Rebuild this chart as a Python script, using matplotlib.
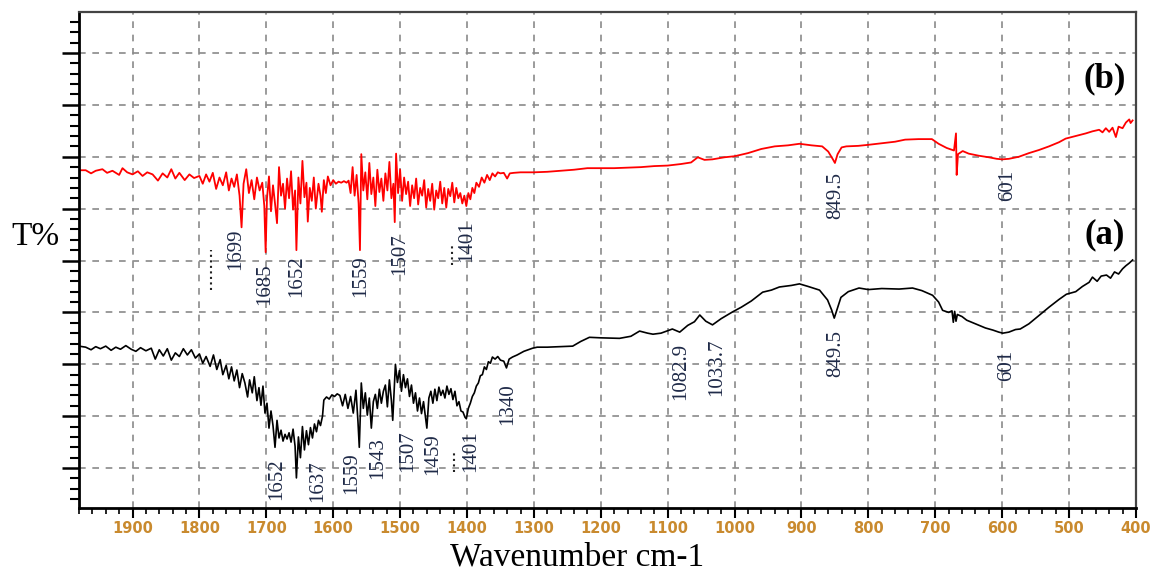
# FTIR transmittance spectra (a) and (b), T% vs wavenumber

import numpy as np
import matplotlib
matplotlib.use('Agg')
import matplotlib.pyplot as plt
from matplotlib.ticker import MultipleLocator, NullFormatter

# spectrum (b), red
wnB = [1980, 1970, 1962, 1955, 1945, 1938, 1930, 1920, 1915, 1908, 1900, 1892, 1885, 1878, 1870,
       1862, 1855, 1848, 1842, 1836, 1830, 1822, 1815, 1808, 1800, 1795, 1790, 1785, 1780, 1775,
       1770, 1765, 1760, 1756, 1752, 1748, 1744, 1740, 1737, 1734, 1730, 1726, 1722, 1718, 1714,
       1710, 1706, 1703, 1701, 1699, 1696, 1693, 1690, 1687, 1684, 1681, 1678, 1675, 1672, 1669,
       1666, 1663, 1660, 1657, 1655, 1652, 1649, 1646, 1643, 1640, 1638, 1635, 1632, 1629, 1626,
       1622, 1619, 1617, 1614, 1611, 1608, 1604, 1600, 1596, 1592, 1588, 1584, 1580, 1577, 1574,
       1571, 1568, 1565, 1562, 1560, 1558, 1555, 1552, 1549, 1546, 1543, 1540, 1537, 1534, 1531,
       1528, 1525, 1522, 1519, 1516, 1513, 1510, 1508, 1506, 1503, 1500, 1497, 1494, 1491, 1488,
       1485, 1482, 1479, 1476, 1473, 1470, 1467, 1464, 1461, 1458, 1455, 1452, 1449, 1446, 1443,
       1440, 1437, 1434, 1431, 1428, 1425, 1422, 1419, 1416, 1413, 1410, 1407, 1404, 1401, 1398,
       1395, 1392, 1389, 1386, 1382, 1378, 1374, 1370, 1366, 1362, 1358, 1354, 1350, 1345, 1340,
       1336, 1330, 1320, 1300, 1280, 1260, 1240, 1220, 1200, 1180, 1160, 1140, 1120, 1100, 1080,
       1065, 1055, 1045, 1033, 1015, 1000, 980, 960, 940, 920, 903, 885, 869, 860, 853,
       850, 846, 840, 833, 815, 800, 780, 760, 745, 725, 705, 695, 683, 672, 669,
       668, 666, 659, 650, 635, 620, 608, 600, 590, 575, 560, 545, 530, 515, 505,
       490, 475, 465, 455, 450, 445, 440, 435, 430, 426, 420, 415, 410, 408, 405]
tB = [67.4, 67.4, 66.8, 67.3, 67.6, 66.9, 67.3, 66.5, 67.8, 67.0, 66.6, 67.2, 66.3, 67.0, 66.6,
      65.4, 66.8, 66.0, 67.6, 65.8, 66.9, 65.5, 66.6, 65.9, 66.3, 64.8, 66.6, 65.2, 66.9, 63.8,
      66.0, 64.5, 67.0, 63.5, 65.8, 64.2, 66.6, 62.5, 56.4, 64.8, 67.6, 63.0, 65.5, 61.8, 66.0,
      63.5, 65.0, 60.5, 51.6, 62.0, 66.2, 59.5, 64.5, 61.0, 57.2, 68.0, 62.5, 64.8, 60.0, 65.8,
      62.0, 67.2, 59.8, 63.5, 52.0, 66.0, 61.0, 69.2, 62.2, 65.0, 57.5, 64.0, 61.5, 66.0, 60.0,
      64.8, 62.5, 59.4, 65.5, 63.0, 66.2, 64.5, 65.5, 64.8, 65.2, 65.0, 65.3, 65.0, 65.4, 63.0,
      68.0, 62.5, 66.5, 61.0, 52.0, 70.5, 63.5, 67.0, 61.8, 68.8, 62.8, 66.0, 60.5, 67.5, 63.2,
      65.8, 61.5, 66.8, 63.5, 69.0, 62.0, 64.8, 57.4, 70.6, 63.0, 67.5, 61.5, 66.0, 62.8, 65.2,
      60.5, 64.5, 62.0, 65.8, 60.8, 64.0, 62.5, 65.5, 60.2, 63.8, 61.5, 64.8, 59.8, 63.5, 62.0,
      65.2, 61.0, 64.0, 60.2, 63.8, 62.4, 65.0, 61.2, 64.0, 62.0, 63.0, 61.0, 62.5, 60.5, 63.0,
      61.8, 64.0, 63.0, 65.0, 64.2, 66.0, 65.0, 66.5, 65.5, 66.8, 66.2, 67.0, 66.8, 66.9, 65.8,
      66.8, 66.9, 67.0, 67.0, 67.1, 67.3, 67.5, 67.8, 67.8, 67.8, 67.9, 68.0, 68.2, 68.3, 68.6,
      68.9, 69.9, 69.4, 69.5, 69.9, 70.1, 70.7, 71.5, 72.0, 72.2, 72.5, 72.2, 72.0, 71.0, 69.5,
      68.8, 70.5, 71.8, 72.0, 72.1, 72.3, 72.6, 72.9, 73.3, 73.4, 73.4, 72.5, 71.7, 71.2, 74.5,
      66.5, 70.5, 71.1, 70.6, 70.2, 69.9, 69.6, 69.5, 69.6, 70.0, 70.7, 71.3, 72.0, 72.8, 73.5,
      74.0, 74.5, 74.9, 75.2, 74.7, 75.5, 74.8, 75.6, 73.8, 75.8, 75.5, 76.6, 77.2, 76.5, 77.0]

# spectrum (a), black
wnA = [1980, 1970, 1962, 1955, 1948, 1940, 1932, 1925, 1918, 1910, 1902, 1895, 1888, 1880, 1872,
       1866, 1860, 1854, 1848, 1842, 1836, 1830, 1824, 1818, 1812, 1806, 1800, 1795, 1790, 1784,
       1779, 1774, 1769, 1765, 1760, 1756, 1752, 1748, 1744, 1740, 1736, 1732, 1728, 1725, 1721,
       1718, 1714, 1711, 1708, 1705, 1702, 1699, 1696, 1693, 1690, 1687, 1684, 1681, 1678, 1675,
       1672, 1669, 1666, 1663, 1660, 1657, 1655, 1652, 1649, 1646, 1643, 1640, 1637, 1634, 1631,
       1628, 1625, 1622, 1619, 1616, 1614, 1610, 1606, 1602, 1598, 1594, 1590, 1586, 1582, 1578,
       1574, 1570, 1566, 1563, 1561, 1558, 1555, 1552, 1549, 1546, 1543, 1540, 1537, 1534, 1531,
       1528, 1525, 1522, 1519, 1516, 1513, 1511, 1507, 1504, 1501, 1498, 1495, 1492, 1489, 1486,
       1483, 1480, 1477, 1474, 1471, 1468, 1465, 1462, 1460, 1457, 1454, 1451, 1448, 1445, 1442,
       1439, 1436, 1433, 1430, 1427, 1424, 1421, 1418, 1415, 1412, 1409, 1406, 1403, 1401, 1398,
       1395, 1392, 1389, 1386, 1383, 1380, 1377, 1374, 1371, 1368, 1365, 1362, 1358, 1354, 1350,
       1345, 1341, 1337, 1332, 1325, 1315, 1302, 1295, 1280, 1260, 1242, 1230, 1217, 1200, 1172,
       1155, 1142, 1130, 1122, 1110, 1093, 1082, 1070, 1060, 1052, 1043, 1033, 1020, 1003, 990,
       975, 958, 945, 933, 915, 903, 890, 873, 861, 855, 851, 847, 841, 830, 814,
       800, 780, 754, 734, 720, 704, 695, 689, 680, 675, 673, 671, 669, 667, 660,
       653, 640, 625, 614, 605, 599, 590, 580, 573, 560, 544, 530, 515, 504, 490,
       480, 470, 465, 458, 452, 444, 438, 432, 426, 420, 415, 410, 405]
tA = [33.5, 33.3, 32.8, 33.4, 33.0, 33.5, 32.7, 33.3, 32.9, 33.6, 32.9, 32.5, 33.2, 32.6, 33.1,
      31.0, 32.8, 31.6, 33.0, 30.8, 32.2, 31.5, 33.0, 31.8, 32.8, 31.2, 32.0, 30.2, 31.5, 29.6,
      31.8, 29.0, 30.9, 28.0, 29.8, 27.2, 29.5, 26.8, 28.9, 25.5, 28.2, 26.4, 23.7, 27.0, 24.5,
      27.6, 23.0, 25.5, 22.1, 25.8, 20.6, 22.5, 17.7, 21.0, 18.2, 14.0, 19.2, 15.8, 17.3, 15.2,
      16.5, 15.6, 16.8, 15.0, 17.5, 14.2, 8.1, 16.0, 12.0, 18.0, 13.5, 17.2, 14.5, 17.8, 15.8,
      18.5, 17.0, 19.2, 18.2, 20.0, 23.1, 23.7, 23.3, 24.1, 23.8, 24.3, 24.0, 22.0, 24.2, 21.5,
      23.8, 20.6, 25.0, 19.0, 14.0, 26.4, 21.5, 24.5, 20.2, 23.5, 17.7, 22.8, 24.2, 21.5, 25.2,
      22.5, 24.8, 26.0, 21.8, 27.0, 23.0, 19.2, 30.0, 26.5, 28.8, 24.8, 28.0, 25.5, 27.2, 23.8,
      26.0, 22.5, 24.5, 21.0, 23.5, 20.5, 22.8, 19.8, 17.7, 23.5, 24.8, 22.5, 25.2, 23.0, 25.6,
      24.0, 25.0, 23.5, 25.8, 24.2, 25.3, 23.2, 24.8, 22.0, 22.8, 21.0, 20.8, 19.8, 19.5, 21.5,
      22.5, 23.8, 24.5, 25.8, 26.4, 27.8, 28.0, 29.5, 29.0, 30.5, 30.2, 31.4, 31.0, 31.5, 30.8,
      30.6, 29.3, 31.0, 31.4, 31.8, 32.5, 33.1, 33.3, 33.3, 33.4, 33.5, 34.4, 35.2, 35.1, 35.0,
      35.4, 36.4, 36.0, 35.8, 36.0, 36.8, 36.2, 37.5, 38.2, 39.5, 38.3, 37.6, 38.8, 40.1, 41.0,
      42.2, 43.9, 44.3, 44.9, 45.2, 45.5, 45.0, 44.3, 42.4, 40.5, 38.9, 40.5, 42.9, 44.0, 44.7,
      44.4, 44.6, 44.5, 44.7, 44.2, 43.3, 42.0, 40.4, 40.0, 40.3, 38.1, 40.2, 38.3, 39.6, 39.2,
      38.5, 37.8, 37.0, 36.6, 36.2, 36.0, 36.2, 36.7, 36.8, 37.8, 39.5, 41.0, 42.5, 43.5, 44.0,
      45.0, 45.8, 46.8, 46.0, 47.0, 47.2, 46.6, 47.8, 47.4, 48.4, 49.0, 49.5, 50.1]

# peak labels: text, wavenumber, top of label (T%)
labelsB = ['1699', '1685', '1652', '1559', '1507', '1401', '849.5', '601']
labelsB_x = [1746, 1703, 1655, 1559, 1501, 1401, 849, 592]
labelsB_y = [56.2, 49.5, 51.0, 51.0, 55.3, 57.8, 67.0, 67.4]

labelsA = ['1652', '1637', '1559', '1543', '1507', '1459', '1401', '1340',
           '1082.9', '1033.7', '849.5', '601']
labelsA_x = [1685, 1623, 1573, 1534, 1489, 1452, 1395, 1339, 1081, 1027, 849, 594]
labelsA_y = [11.9, 11.5, 13.1, 16.0, 17.3, 16.7, 17.3, 26.4, 34.1, 35.0, 36.6, 32.7]

# small dotted marks left over near some peaks
marks_x = [1782, 1422, 1419]
marks_lo = [44.3, 49.1, 9.2]
marks_hi = [52.0, 53.4, 13.1]

serif = ['Liberation Serif', 'DejaVu Serif']

fig = plt.figure(figsize=(11.55, 5.71), dpi=100)
ax = fig.add_axes([0.0684, 0.1103, 0.9151, 0.8687])

ax.plot(wnB, tB, color='#ff0000', lw=1.3)
ax.plot(wnA, tA, color='black', lw=1.2)
ax.vlines(marks_x, marks_lo, marks_hi, colors='#222222', linestyles=':', lw=1.5)

for s, x, y in zip(labelsB + labelsA, labelsB_x + labelsA_x, labelsB_y + labelsA_y):
    ax.text(x, y, s, rotation=90, ha='center', va='top', fontsize=15,
            family=serif, color='#1f2a48')

ax.text(0.970, 0.865, '(b)', transform=ax.transAxes, ha='center', va='center',
        fontsize=25, fontweight='bold', family=serif)
ax.text(0.970, 0.550, '(a)', transform=ax.transAxes, ha='center', va='center',
        fontsize=25, fontweight='bold', family=serif)

ax.set_xlim(1980, 400)
ax.set_ylim(2.3, 97.9)
ax.xaxis.set_minor_locator(MultipleLocator(20))
ax.yaxis.set_major_locator(MultipleLocator(10))
ax.yaxis.set_minor_locator(MultipleLocator(2))
ax.yaxis.set_major_formatter(NullFormatter())
ax.set_xticks([t for t in range(1900, 399, -100)])
ax.set_xticklabels([str(t) for t in range(1900, 399, -100)])

ax.tick_params(axis='x', which='major', direction='out', length=7, width=1.5,
               labelsize=10.5, labelcolor='#c98a2e', pad=2)
ax.tick_params(axis='x', which='minor', direction='out', length=4, width=1.2)
ax.tick_params(axis='y', which='major', direction='out', length=12, width=1.8)
ax.tick_params(axis='y', which='minor', direction='out', length=6.5, width=1.5)
for lab in ax.get_xticklabels():
    lab.set_fontweight('bold')

ax.grid(True, which='major', color='#8a8a8a', linestyle=(0, (4, 4)), lw=1.2)
ax.set_axisbelow(True)

for side in ['left', 'bottom']:
    ax.spines[side].set_linewidth(2)
    ax.spines[side].set_color('black')
for side in ['top', 'right']:
    ax.spines[side].set_linewidth(1.6)
    ax.spines[side].set_color('#444444')

ax.set_ylabel('T%', rotation=0, fontsize=24, family=serif, ha='center', va='center')
ax.yaxis.set_label_coords(-0.041, 0.546)
ax.set_xlabel('Wavenumber cm-1', fontsize=24, family=serif, va='center')
ax.xaxis.set_label_coords(0.471, -0.099)

fig.savefig('out.png', dpi=100)
